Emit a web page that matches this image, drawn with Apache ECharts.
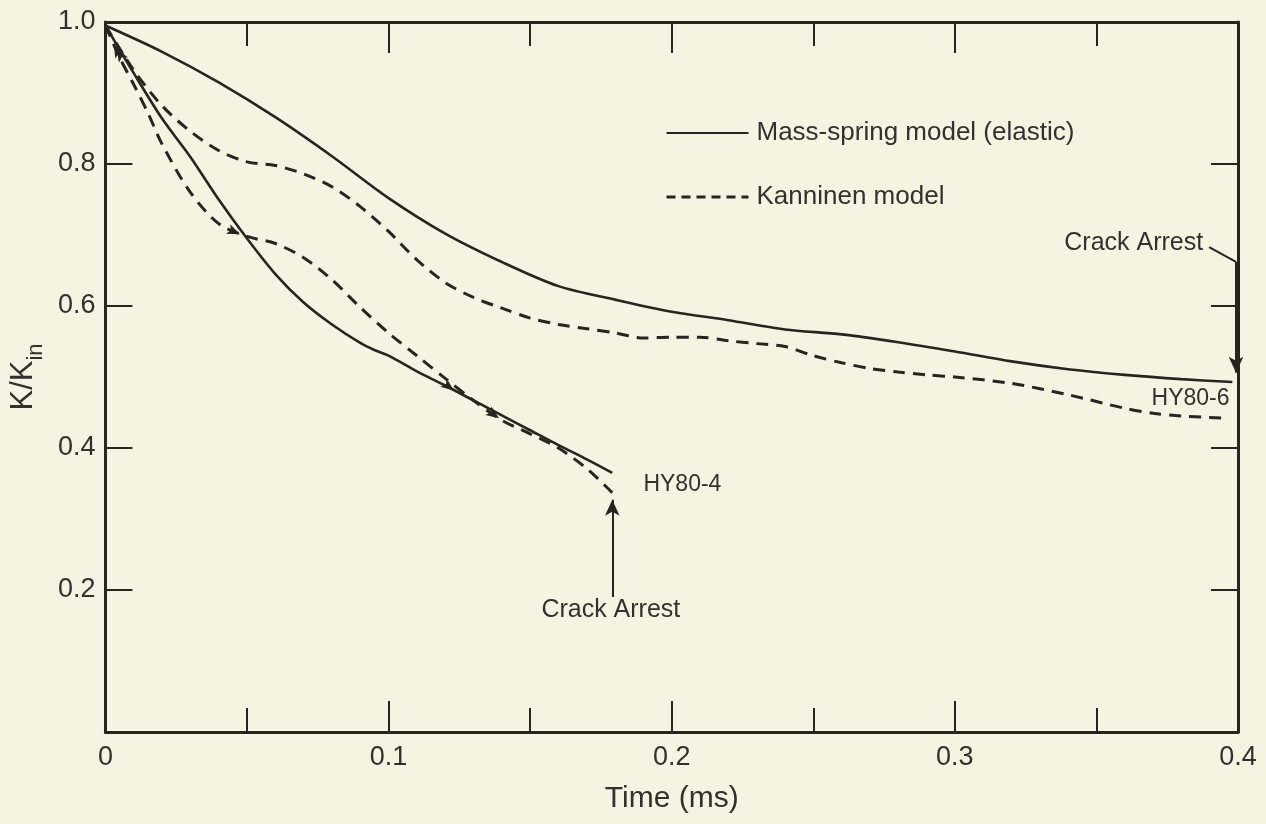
<!DOCTYPE html>
<html>
<head>
<meta charset="utf-8">
<script src="https://cdn.jsdelivr.net/npm/echarts@6/dist/echarts.min.js"></script>
<style>
  html, body { margin: 0; padding: 0; background: #f7f2e2; }
  #myChart { width: 1266px; height: 824px; }
</style>
</head>
<body>
<div id="myChart"></div>
<script>
// K/Kin vs time, HY80-6 (upper pair) and HY80-4 (lower pair)
const tMass6 = [0, 0.02, 0.04, 0.06, 0.08, 0.10, 0.12, 0.14, 0.16, 0.18, 0.20, 0.22, 0.24, 0.26, 0.28, 0.30, 0.32, 0.34, 0.36, 0.38, 0.398]
const kMass6 = [0.995, 0.958, 0.915, 0.866, 0.811, 0.752, 0.702, 0.662, 0.628, 0.609, 0.592, 0.580, 0.567, 0.560, 0.549, 0.536, 0.522, 0.511, 0.503, 0.497, 0.493]

const tKan6 = [0, 0.01, 0.02, 0.03, 0.04, 0.05, 0.06, 0.07, 0.08, 0.09, 0.10, 0.11, 0.12, 0.13, 0.14, 0.15, 0.16, 0.17, 0.18, 0.19, 0.20, 0.21, 0.22, 0.23, 0.24, 0.25, 0.26, 0.27, 0.28, 0.29, 0.30, 0.32, 0.34, 0.36, 0.37, 0.38, 0.396]
const kKan6 = [0.995, 0.932, 0.882, 0.846, 0.819, 0.803, 0.798, 0.786, 0.768, 0.740, 0.705, 0.665, 0.633, 0.612, 0.597, 0.583, 0.574, 0.568, 0.562, 0.555, 0.556, 0.556, 0.551, 0.547, 0.543, 0.530, 0.520, 0.512, 0.507, 0.503, 0.500, 0.491, 0.475, 0.456, 0.449, 0.445, 0.442]

const tMass4 = [0, 0.01, 0.02, 0.03, 0.04, 0.05, 0.06, 0.07, 0.08, 0.09, 0.095, 0.10, 0.11, 0.12, 0.13, 0.14, 0.15, 0.16, 0.17, 0.179]
const kMass4 = [0.995, 0.928, 0.864, 0.810, 0.750, 0.695, 0.645, 0.605, 0.574, 0.548, 0.538, 0.530, 0.508, 0.488, 0.467, 0.446, 0.425, 0.404, 0.384, 0.365]

const tKan4 = [0, 0.005, 0.01, 0.015, 0.02, 0.03, 0.04, 0.05, 0.06, 0.07, 0.08, 0.09, 0.10, 0.11, 0.12, 0.13, 0.14, 0.15, 0.16, 0.17, 0.179]
const kKan4 = [0.995, 0.950, 0.912, 0.872, 0.828, 0.760, 0.716, 0.698, 0.688, 0.668, 0.637, 0.598, 0.562, 0.530, 0.498, 0.467, 0.439, 0.420, 0.400, 0.371, 0.337]

const xTicks = [0, 0.1, 0.2, 0.3, 0.4]
const yTicks = [0.2, 0.4, 0.6, 0.8, 1.0]

// annotations, in data units
const notes = [
  { text: 'HY80-4', at: [0.190, 0.348], align: 'left', size: 23 },
  { text: 'Crack Arrest', at: [0.1785, 0.172], align: 'center', size: 25 },
  { text: 'HY80-6', at: [0.397, 0.470], align: 'right', size: 23 },
  { text: 'Crack Arrest', at: [0.3877, 0.689], align: 'right', size: 25 }
]
// little direction heads drawn on the HY80-4 curves: [x, y, rotation]
const headsKan4 = [[0.003, 0.968, 28], [0.0475, 0.701, -114], [0.123, 0.481, -128], [0.139, 0.442, -125]]
const headsMass4 = [[0.004, 0.962, 31]]

const ink = '#2a2420'
const txt = '#35302d'
const font = 'Liberation Sans'

function pairs(xs, ys) {
  return xs.map((x, i) => [x, ys[i]])
}
function heads(list) {
  return {
    silent: true, animation: false, symbol: 'arrow', symbolSize: [8, 13],
    itemStyle: { color: ink }, label: { show: false },
    data: list.map(h => ({ coord: [h[0], h[1]], symbolRotate: h[2] }))
  }
}

let myChart = echarts.init(document.getElementById('myChart'))

const xAxisBase = {
  type: 'value', min: 0, max: 0.4, interval: 0.1,
  axisLine: { show: true, onZero: false, lineStyle: { color: ink, width: 3 } },
  axisTick: { show: true, inside: true, length: 31, lineStyle: { color: ink, width: 2 } },
  minorTick: { show: true, splitNumber: 2, length: 24, lineStyle: { color: ink, width: 2 } },
  splitLine: { show: false }
}
const yAxisBase = {
  type: 'value', min: 0, max: 1, interval: 0.2,
  axisLine: { show: true, onZero: false, lineStyle: { color: ink, width: 3 } },
  axisTick: { show: true, inside: true, length: 27, lineStyle: { color: ink, width: 2 } },
  splitLine: { show: false }
}

const solid = { color: ink, width: 2.6, type: 'solid' }
const dashed = { color: ink, width: 3, type: [12, 8] }

myChart.setOption({
  backgroundColor: '#f7f2e2',
  animation: false,
  textStyle: { fontFamily: font },
  grid: { left: 102, right: 28, top: 22, bottom: 92 },
  legend: {
    orient: 'vertical', left: 660, top: 113,
    itemWidth: 82, itemHeight: 14, itemGap: 34,
    itemStyle: { opacity: 0 },
    data: [
      { name: 'Mass-spring model (elastic)' },
      { name: 'Kanninen model', lineStyle: { type: [9, 6], width: 3 } }
    ],
    textStyle: { fontSize: 26, color: txt, fontFamily: font, lineHeight: 30, padding: [0, 0, 0, 3] }
  },
  xAxis: [
    Object.assign({}, xAxisBase, {
      position: 'bottom',
      name: 'Time (ms)', nameLocation: 'middle', nameGap: 52,
      nameTextStyle: { fontSize: 30, color: txt, fontFamily: font },
      axisLabel: {
        fontSize: 27, color: txt, margin: 12, fontFamily: font,
        formatter: v => xTicks.includes(+v.toFixed(2)) ? (v === 0 ? '0' : v.toFixed(1)) : ''
      }
    }),
    Object.assign({}, xAxisBase, { position: 'top', axisLabel: { show: false } })
  ],
  yAxis: [
    Object.assign({}, yAxisBase, {
      position: 'left',
      name: '{k|K/K}{s|in}', nameLocation: 'middle', nameGap: 56, nameRotate: 90,
      nameTextStyle: {
        rich: {
          k: { fontSize: 31, color: txt, fontFamily: font, verticalAlign: 'bottom', padding: [0, 0, 8, 0] },
          s: { fontSize: 22, color: txt, fontFamily: font, verticalAlign: 'bottom' }
        }
      },
      axisLabel: {
        fontSize: 27, color: txt, margin: 10, fontFamily: font,
        formatter: v => yTicks.includes(+v.toFixed(1)) ? v.toFixed(1) : ''
      }
    }),
    Object.assign({}, yAxisBase, { position: 'right', axisLabel: { show: false } })
  ],
  series: [
    {
      name: 'Mass-spring model (elastic)', type: 'line', smooth: 0.3, symbol: 'none',
      lineStyle: solid, itemStyle: { color: ink }, data: pairs(tMass6, kMass6),
      markLine: {
        silent: true, animation: false, label: { show: false },
        lineStyle: { color: ink, width: 2, type: 'solid' },
        symbolSize: [11, 16],
        data: [
          [{ coord: [0.179, 0.190], symbol: 'none' }, { coord: [0.179, 0.327], symbol: 'arrow' }],
          [{ coord: [0.3898, 0.683], symbol: 'none' }, { coord: [0.3993, 0.662], symbol: 'none' }],
          [{ coord: [0.3993, 0.662], symbol: 'none' }, { coord: [0.3993, 0.506], symbol: 'arrow' }]
        ]
      }
    },
    {
      name: 'Kanninen model', type: 'line', smooth: 0.3, symbol: 'none',
      lineStyle: dashed, itemStyle: { color: ink }, data: pairs(tKan6, kKan6)
    },
    {
      name: 'Mass-spring model (elastic)', type: 'line', smooth: 0.3, symbol: 'none',
      lineStyle: solid, itemStyle: { color: ink }, data: pairs(tMass4, kMass4),
      markPoint: heads(headsMass4)
    },
    {
      name: 'Kanninen model', type: 'line', smooth: 0.3, symbol: 'none',
      lineStyle: dashed, itemStyle: { color: ink }, data: pairs(tKan4, kKan4),
      markPoint: heads(headsKan4)
    }
  ]
})

// place text notes through the grid's own scale
myChart.setOption({
  graphic: notes.map(n => {
    let p = myChart.convertToPixel({ gridIndex: 0 }, n.at)
    return {
      type: 'text', x: p[0], y: p[1], silent: true,
      style: { text: n.text, fontSize: n.size, fill: txt, fontFamily: font, align: n.align, verticalAlign: 'middle' }
    }
  })
})
</script>
</body>
</html>
